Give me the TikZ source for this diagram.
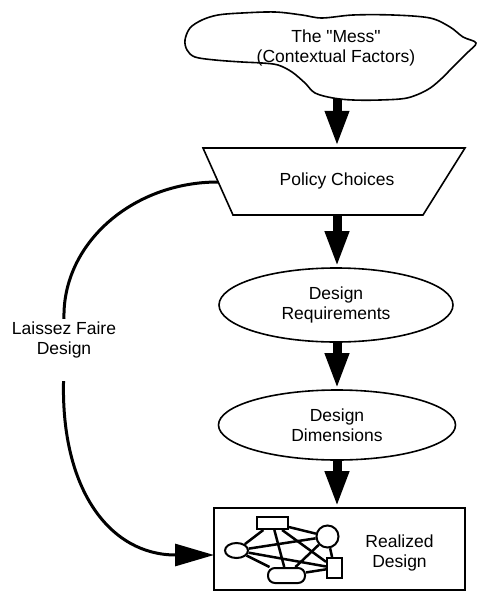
\documentclass[tikz,border=0pt]{standalone}
\usepackage{fontspec}
\setmainfont{Liberation Sans}[Ligatures=TeXOff]
\usetikzlibrary{arrows.meta,shapes.geometric}

\begin{document}
\begin{tikzpicture}[
  x=1pt, y=-1pt,
  lbl/.style={align=center, inner sep=3pt, font=\fontsize{17.5}{19.5}\selectfont},
  shp/.style={draw, line width=1.6pt},
  ell/.style={shp, ellipse, lbl, inner sep=0pt},
  arr/.style={-{Triangle[length=36pt, width=22pt]}, line width=9pt},
  lf/.style={-{Triangle[length=39pt, width=22pt]}, line width=3pt},
  net/.style={draw, line width=2pt, inner sep=0pt},
  link/.style={line width=2.5pt}
]
\useasboundingbox (0,0) rectangle (477,592);

\draw[shp] plot[smooth cycle, tension=0.55] coordinates {
  (185,40) (190,28) (202,20) (218,15) (242,13) (275,12) (302,15) (322,18)
  (353,15) (393,15) (430,18) (450,27) (463,37) (476,43) (467,53) (453,67)
  (440,80) (427,90) (407,98) (380,100) (353,100) (333,98) (315,93) (305,83)
  (292,72) (278,65) (262,63) (242,62) (215,60) (195,57) (187,50)};
\node[lbl] (mess) at (336,48) {The "Mess"\\(Contextual Factors)};
\coordinate (messS) at (337,99);

\draw[shp] (203,148) -- (465,148) -- (423,215) -- (233,215) -- cycle;
\node[lbl, inner sep=0pt, minimum height=67pt] (policy) at (337,180.5) {Policy Choices};
\coordinate (lfA) at (218,182);

\node[ell, minimum width=234pt, minimum height=74pt] (req) at (336,305) {Design\\Requirements};
\node[ell, minimum width=237pt, minimum height=70pt] (dim) at (337,425) {Design\\Dimensions};

\node[shp, minimum width=251pt, minimum height=82pt] (real) at (339.5,549) {};
\node[lbl] (realtxt) at (399.5,553) {Realized\\Design};
\coordinate (lfB) at (214,555);

\node[net, minimum width=31pt, minimum height=12pt] (nr) at (272.5,523) {};
\node[net, circle, minimum size=22pt] (nc) at (327.5,536.5) {};
\node[net, ellipse, minimum width=23pt, minimum height=15pt] (ne) at (236.5,550.5) {};
\node[net, rounded corners=7pt, minimum width=37pt, minimum height=15pt] (nrr) at (286.5,575.5) {};
\node[net, minimum width=15pt, minimum height=20pt] (ns) at (334.5,568) {};
\foreach \a/\b in {nr/ne, nr/nc, nr/nrr, nr/ns, ne/nc, ne/ns, ne/nrr, nc/nrr, nc/ns, nrr/ns}
  \draw[link] (\a) -- (\b);

\node[lbl] (lfd) at (64,340) {Laissez Faire\\Design};

\draw[arr] (messS) -- (policy.north);
\draw[arr] (policy.south) -- (policy.south |- req.north);
\draw[arr] (req.south -| dim.north) -- (dim.north);
\draw[arr] (dim.south) -- (dim.south |- real.north);
\draw[line width=3pt] (lfA) .. controls (132,182) and (62,244) .. (lfd.north);
\draw[lf, shorten <=20pt] (lfd.south) .. controls (61,490) and (110,555) .. (lfB);
\end{tikzpicture}
\end{document}
